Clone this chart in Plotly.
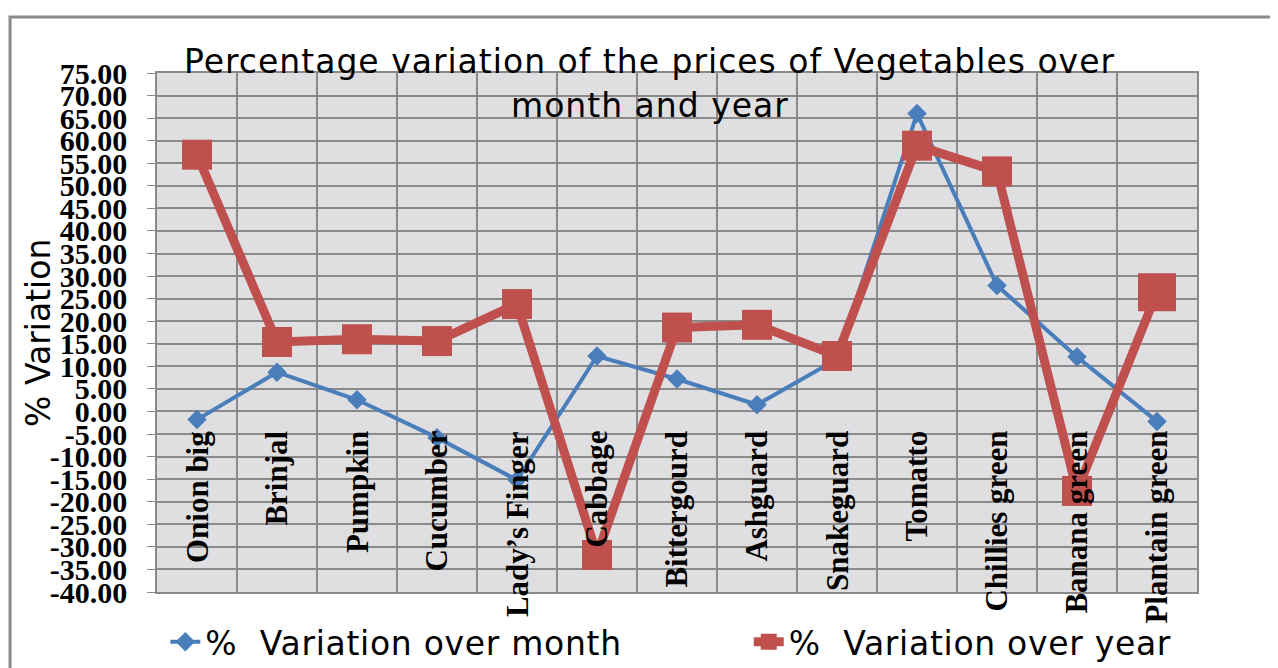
import plotly.graph_objects as go

categories = ["Onion big", "Brinjal", "Pumpkin", "Cucumber", "Lady\u2019s Finger", "Cabbage",
              "Bittergourd", "Ashguard", "Snakeguard", "Tomatto", "Chillies green",
              "Banana green", "Plantain green"]
month_var = [-1.8, 8.7, 2.6, -5.8, -15.2, 12.3, 7.2, 1.5, 11.6, 66.0, 27.9, 12.1, -2.2]
year_var = [56.9, 15.4, 16.0, 15.6, 23.8, -31.8, 18.6, 19.2, 12.3, 58.9, 53.2, -17.6, 26.4]
y_ticks = [v * 5 for v in range(-8, 16)]
y_ticktext = [f"{v:.2f}" for v in y_ticks]

BLUE = "#4a7ebb"
RED = "#c0504d"
SERIF = "Liberation Serif"
SANS = "DejaVu Sans"
NB = "\u00a0"


def spaced(t, px=1):
    return f"<span style='letter-spacing:{px}px'>{t}</span>"


fig = go.Figure()
fig.add_trace(go.Scatter(
    x=categories, y=month_var, name=spaced("%" + NB + " Variation over month", 0.7),
    mode="lines+markers", legend="legend",
    line=dict(color=BLUE, width=4),
    marker=dict(symbol="diamond", size=15, color=BLUE, opacity=1, line=dict(width=0)),
))
fig.add_trace(go.Scatter(
    x=categories, y=year_var, name=spaced("%" + NB + " Variation over year", 0.7),
    mode="lines+markers", legend="legend2",
    line=dict(color=RED, width=9),
    marker=dict(symbol="square", size=[30] * 12 + [38], color=RED, opacity=1,
                line=dict(width=0)),
))

annotations = []
for c in categories:
    annotations.append(dict(
        x=c, y=-3.9, xref="x", yref="y", text=c, showarrow=False,
        textangle=-90, xanchor="center", yanchor="top",
        font=dict(family=SERIF, size=31, color="black", weight=700),
    ))
annotations.append(dict(
    x=0.474, y=1.023, xref="paper", yref="paper", showarrow=False,
    text=spaced("Percentage variation of the prices of Vegetables over"),
    font=dict(family=SANS, size=33, color="black"), xanchor="center", yanchor="middle",
))
annotations.append(dict(
    x=0.474, y=0.937, xref="paper", yref="paper", showarrow=False,
    text=spaced("month and year"),
    font=dict(family=SANS, size=33, color="black"), xanchor="center", yanchor="middle",
))
annotations.append(dict(
    x=-0.114, y=0.50, xref="paper", yref="paper", showarrow=False,
    text="% Variation", textangle=-90,
    font=dict(family=SANS, size=33, color="black"), xanchor="center", yanchor="middle",
))

legend_style = dict(
    orientation="h", y=-0.042, xanchor="left", yanchor="top",
    font=dict(family=SANS, size=33, color="black"),
    bgcolor="rgba(0,0,0,0)",
)

fig.update_layout(
    width=1278, height=668,
    margin=dict(l=149, r=89, t=65, b=84, autoexpand=False),
    paper_bgcolor="white",
    plot_bgcolor="#dfdfe2",
    showlegend=True,
    legend=dict(x=0.008, **legend_style),
    legend2=dict(x=0.569, **legend_style),
    annotations=annotations,
    shapes=[dict(
        type="rect", xref="paper", yref="paper",
        x0=-0.1413, x1=1.3, y0=-0.3, y1=1.108,
        line=dict(color="#8a8a8a", width=3), fillcolor="rgba(0,0,0,0)",
        layer="above",
    )],
)
fig.update_xaxes(
    type="category", tickson="boundaries", showticklabels=False,
    showgrid=True, gridcolor="#8a8a8a", gridwidth=1.5,
    showline=True, linecolor="#8a8a8a", linewidth=1.5, mirror=True,
    ticks="", range=[-0.5, 12.5], zeroline=False,
)
fig.update_yaxes(
    range=[-40, 75], tickvals=y_ticks, ticktext=y_ticktext,
    showgrid=True, gridcolor="#8a8a8a", gridwidth=1.5,
    showline=True, linecolor="#8a8a8a", linewidth=1.5, mirror=True,
    ticks="outside", ticklen=8, tickcolor="#8a8a8a", ticklabelstandoff=14,
    tickfont=dict(family=SERIF, size=30, color="black", weight=700),
    zeroline=False,
)

fig.write_html("out.html")
